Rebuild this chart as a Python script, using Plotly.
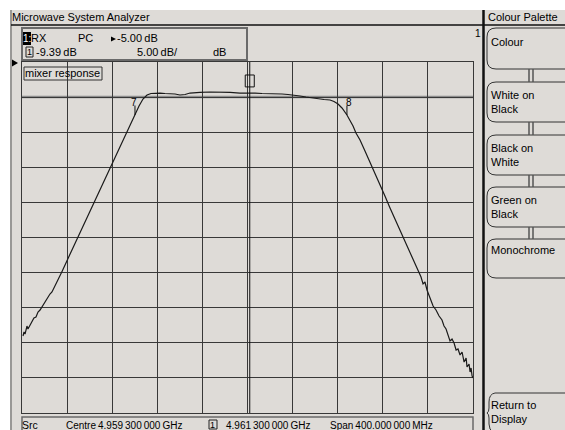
import plotly.graph_objects as go

# ---------------- data ----------------
freq_mhz = [4760.2, 4761.1, 4762.0, 4762.8, 4763.7, 4764.6, 4766.4, 4768.2, 4769.9, 4771.7,
            4773.5, 4775.3, 4777.0, 4778.8, 4780.6, 4782.4, 4784.1, 4785.9, 4788.6, 4791.2,
            4794.8, 4799.2, 4803.6, 4808.6, 4815.2, 4821.4, 4828.5, 4834.7, 4839.1, 4844.4,
            4849.8, 4855.1, 4859.5, 4863.1, 4866.6, 4870.2, 4873.7, 4877.3, 4881.7, 4886.1,
            4890.6, 4895.0, 4899.4, 4903.9, 4908.3, 4912.7, 4917.2, 4926.0, 4934.9, 4943.8,
            4952.6, 4961.3, 4966.0, 4972.2, 4979.3, 4984.6, 4989.9, 4995.2, 5000.5, 5005.9,
            5011.2, 5016.5, 5021.8, 5027.2, 5032.5, 5036.0, 5039.6, 5043.1, 5047.5, 5050.2,
            5052.9, 5055.5, 5059.1, 5063.5, 5068.0, 5072.4, 5076.8, 5081.2, 5085.7, 5090.1,
            5094.5, 5099.0, 5103.4, 5107.0, 5110.5, 5113.2, 5115.0, 5116.7, 5118.5, 5121.2,
            5123.9, 5126.5, 5129.2, 5131.8, 5133.6, 5135.4, 5137.2, 5138.9, 5140.7, 5142.5,
            5144.3, 5146.0, 5147.8, 5149.6, 5151.4, 5153.2, 5154.0, 5155.8, 5156.7, 5157.6,
            5158.5, 5159.3]
level_db = [-44.03, -43.46, -43.75, -42.89, -42.61, -43.03, -42.46, -42.04, -41.47, -41.32,
            -40.61, -40.33, -39.90, -39.33, -39.05, -38.48, -38.05, -37.76, -36.91, -36.05,
            -34.83, -33.30, -31.78, -29.96, -27.82, -25.68, -23.25, -21.11, -19.59, -17.76,
            -15.94, -14.12, -12.55, -11.27, -10.27, -9.70, -9.49, -9.42, -9.42, -9.49,
            -9.49, -9.56, -9.70, -9.63, -9.42, -9.34, -9.34, -9.27, -9.27, -9.34,
            -9.42, -9.39, -9.42, -9.49, -9.49, -9.56, -9.56, -9.63, -9.70, -9.84,
            -9.99, -10.13, -10.27, -10.34, -10.41, -10.63, -10.98, -11.55, -12.55, -13.26,
            -14.12, -15.11, -16.11, -17.68, -19.25, -20.95, -22.52, -24.09, -25.80, -27.36,
            -28.93, -30.64, -32.21, -33.49, -34.77, -35.63, -36.62, -36.34, -37.48, -38.62,
            -39.76, -40.33, -41.18, -41.75, -42.61, -43.03, -44.03, -44.74, -44.46, -45.03,
            -46.03, -45.88, -46.74, -46.31, -47.74, -47.17, -48.45, -48.02, -49.16, -48.59,
            -49.73, -50.01]

centre_mhz = 4959.3
span_mhz = 400.0
ref_level = -5.0
scale_db = 5.0
n_div = 10
marker1_mhz = 4961.3
marker1_db = -9.39
marker7_mhz = 4859.5
marker7_db = -12.55
marker8_mhz = 5047.5
marker8_db = -12.55

softkeys = ["Colour", "White on<br>Black", "Black on<br>White", "Green on<br>Black", "Monochrome"]

# ---------------- figure ----------------
W, H = 565, 430
def px(x): return x / W
def py(y): return 1 - y / H

PANEL = "#dedbd7"
GRID = "#383838"
FONT = "Liberation Sans"

x0 = centre_mhz - span_mhz / 2
x1 = centre_mhz + span_mhz / 2
y_top = ref_level
y_bot = ref_level - scale_db * n_div

fig = go.Figure()
fig.add_trace(go.Scatter(x=freq_mhz, y=level_db, mode="lines",
                         line=dict(color="#1a1a1a", width=1.2), hoverinfo="skip"))

fig.update_layout(
    width=W, height=H, margin=dict(l=0, r=0, t=0, b=0),
    paper_bgcolor="white", plot_bgcolor=PANEL, showlegend=False,
    font=dict(family=FONT, size=11, color="black"),
    xaxis=dict(domain=[px(22), px(473)], range=[x0, x1], tick0=x0, dtick=span_mhz / n_div,
               showgrid=True, gridcolor=GRID, gridwidth=1.2, zeroline=False,
               showticklabels=False, ticks="", showline=True, linecolor=GRID, linewidth=1.2,
               mirror=True),
    yaxis=dict(domain=[py(413), py(62)], range=[y_bot, y_top], tick0=y_bot, dtick=scale_db,
               showgrid=True, gridcolor=GRID, gridwidth=1.2, zeroline=False,
               showticklabels=False, ticks="", showline=True, linecolor=GRID, linewidth=1.2,
               mirror=True),
)

shapes = []
def prect(xa, ya, xb, yb, line="#555", lw=1, fill=None, layer="above"):
    shapes.append(dict(type="rect", xref="paper", yref="paper", x0=px(xa), x1=px(xb),
                       y0=py(ya), y1=py(yb), line=dict(color=line, width=lw),
                       fillcolor=fill, layer=layer))
def pline(xa, ya, xb, yb, color="#333", lw=1, layer="above"):
    shapes.append(dict(type="line", xref="paper", yref="paper", x0=px(xa), x1=px(xb),
                       y0=py(ya), y1=py(yb), line=dict(color=color, width=lw), layer=layer))

# panel background
prect(10, 10, 566, 431, line=PANEL, lw=0, fill=PANEL, layer="below")
pline(11, 10, 11, 430, color="#555", lw=1)
pline(11, 25, 565, 25, color="#111", lw=1.5)
pline(483.5, 10, 483.5, 430, color="#111", lw=2.5)

# header box
prect(22, 28, 247, 60, line="#6a6a6a", lw=2)
prect(23, 32, 31, 45, line="black", lw=0, fill="black")
prect(26, 47, 33, 57, line="#222", lw=1)
# mixer response box
prect(24, 67, 102, 80, line="#333", lw=1)
# bottom status box
prect(22, 417, 473, 432, line="#6a6a6a", lw=1.5)
prect(209, 420, 217, 429, line="#222", lw=1)

# ref-position arrow on the left
shapes.append(dict(type="path", xref="paper", yref="paper",
                   path=f"M {px(12)},{py(59.5)} L {px(18)},{py(63)} L {px(12)},{py(66.5)} Z",
                   fillcolor="black", line=dict(color="black", width=0)))
# small arrow before the ref level
shapes.append(dict(type="path", xref="paper", yref="paper",
                   path=f"M {px(111)},{py(36.5)} L {px(116)},{py(39)} L {px(111)},{py(41.5)} Z",
                   fillcolor="black", line=dict(color="black", width=0)))

# -10 dB display line (grey, thicker)
shapes.append(dict(type="line", xref="paper", yref="y", x0=px(22), x1=px(473),
                   y0=ref_level - scale_db, y1=ref_level - scale_db,
                   line=dict(color="#8c8c8c", width=2.5), layer="below"))

# marker 1 line and box
shapes.append(dict(type="line", xref="x", yref="paper", x0=marker1_mhz, x1=marker1_mhz,
                   y0=py(413), y1=py(62), line=dict(color="#111", width=1)))
shapes.append(dict(type="rect", xref="x", yref="y", x0=marker1_mhz - 4, x1=marker1_mhz + 4,
                   y0=-6.85, y1=-8.55, line=dict(color="#111", width=1)))
# marker 7 / 8 ticks
for mf, md in [(marker7_mhz, marker7_db), (marker8_mhz, marker8_db)]:
    shapes.append(dict(type="line", xref="x", yref="y", x0=mf, x1=mf, y0=md, y1=md + 1.35,
                       line=dict(color="#111", width=1)))

# softkeys
key_tops = [28, 82, 135, 187, 239]
key_bots = [69, 122, 175, 227, 278]
r = 9
for t, b in zip(key_tops, key_bots):
    shapes.append(dict(type="path", xref="paper", yref="paper",
                       path=(f"M {px(566)},{py(t)} L {px(487 + r)},{py(t)} "
                             f"Q {px(487)},{py(t)} {px(487)},{py(t + r)} "
                             f"L {px(487)},{py(b - r)} Q {px(487)},{py(b)} {px(487 + r)},{py(b)} "
                             f"L {px(566)},{py(b)}"),
                       line=dict(color="#333", width=1)))
for b, t in zip(key_bots[:-1], key_tops[1:]):
    pline(529, b, 529, t, color="#555", lw=1.5)
    pline(533, b, 533, t, color="#555", lw=1.5)
# return to display (partial)
shapes.append(dict(type="path", xref="paper", yref="paper",
                   path=(f"M {px(566)},{py(393)} L {px(495)},{py(393)} "
                         f"Q {px(489)},{py(394)} {px(489)},{py(402)} "
                         f"L {px(489)},{py(408)} Q {px(489)},{py(412)} {px(487)},{py(413)} "
                         f"Q {px(489)},{py(414)} {px(489)},{py(418)} "
                         f"L {px(489)},{py(424)} Q {px(489)},{py(430)} {px(493)},{py(432)}"),
                   line=dict(color="#333", width=1)))

fig.update_layout(shapes=shapes)

ann = []
def ptext(x, y, s, size=11, color="black", xanchor="left"):
    ann.append(dict(xref="paper", yref="paper", x=px(x), y=py(y), text=s, showarrow=False,
                    xanchor=xanchor, yanchor="middle", align="left", borderpad=0,
                    font=dict(size=size, color=color, family=FONT)))

ptext(11, 17, "Microwave System Analyzer")
ptext(487, 17, "Colour Palette")
ptext(22, 38.5, "1:", size=10, color="white")
ptext(30, 38.5, "RX")
ptext(77, 38.5, "PC")
ptext(116, 38.5, f"{ref_level:.2f}\u2009dB")
ptext(26, 52, "1", size=9)
ptext(35, 52, f"{marker1_db:.2f}\u2009dB")
ptext(136, 52, f"{scale_db:.2f}\u2009dB/")
ptext(212, 52, "dB")
ptext(478, 34, "1", size=10, xanchor="center")
ptext(24, 73, "mixer response")
ptext(21, 425, "Src", size=10.5)
ptext(65, 425, "Centre\u20094.959\u2009300\u2009000\u2009GHz", size=10)
ptext(209, 425, "1", size=9)
ptext(225, 425, f"{marker1_mhz / 1000:.3f}\u2009300\u2009000\u2009GHz", size=10)
ptext(329, 425, f"Span\u2009{span_mhz:.3f}\u2009000\u2009MHz", size=10)

label_y = [42, 102, 155, 207, 250]
for s, yy in zip(softkeys, label_y):
    ptext(490, yy, s)
ptext(490, 412, "Return to<br>Display")

# marker labels in data coordinates
ann.append(dict(xref="x", yref="y", x=marker7_mhz - 1, y=-10.7, text="7", showarrow=False,
                xanchor="center", yanchor="middle", font=dict(size=10, family=FONT)))
ann.append(dict(xref="x", yref="y", x=marker8_mhz + 1.5, y=-10.7, text="8", showarrow=False,
                xanchor="center", yanchor="middle", font=dict(size=10, family=FONT)))
fig.update_layout(annotations=ann)

fig.write_html("out.html", config={"displayModeBar": False},
               post_script="document.body.style.margin='0';document.body.style.padding='0';")
